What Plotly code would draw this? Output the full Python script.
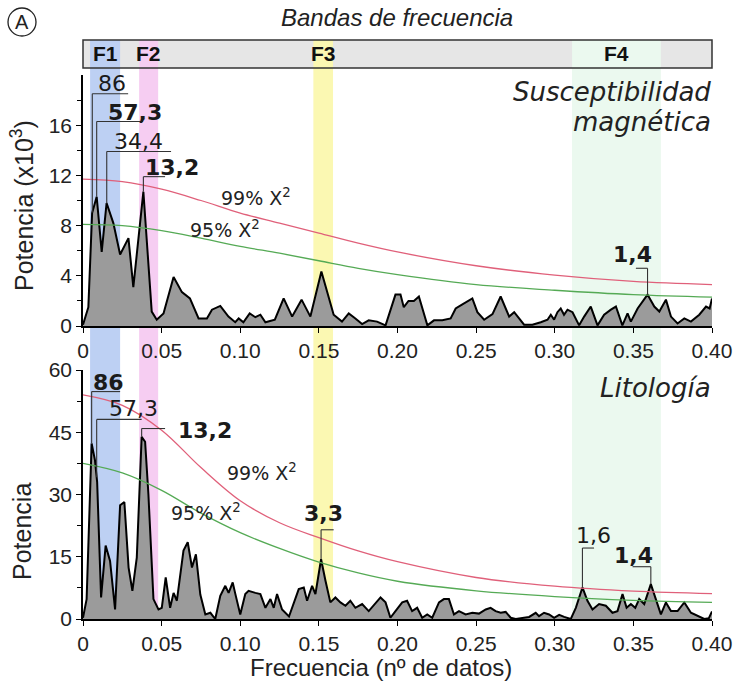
import numpy as np
import plotly.graph_objects as go

# ---------------- data ----------------
SUSC_FREQ = [0.0, 0.0034, 0.0058, 0.0087, 0.0119, 0.015, 0.0193, 0.0236, 0.0289, 0.032,
             0.0384, 0.0437, 0.0469, 0.0512, 0.0576, 0.0629, 0.068, 0.0735, 0.0788, 0.082,
             0.0873, 0.0925, 0.0968, 0.099, 0.102, 0.106, 0.1096, 0.1128, 0.116, 0.122,
             0.1276, 0.133, 0.139, 0.1446, 0.1516, 0.155, 0.1594, 0.1647, 0.169, 0.1732,
             0.1775, 0.1817, 0.187, 0.1924, 0.1987, 0.2019, 0.204, 0.207, 0.2104, 0.2136,
             0.219, 0.2232, 0.2285, 0.2338, 0.237, 0.241, 0.2476, 0.2508, 0.2551, 0.2604,
             0.2656, 0.271, 0.2742, 0.2805, 0.2858, 0.2911, 0.2954, 0.2975, 0.2996, 0.3017,
             0.3038, 0.3059, 0.3081, 0.3113, 0.3155, 0.3187, 0.3229, 0.3272, 0.3314, 0.3357,
             0.3389, 0.343, 0.3463, 0.3484, 0.3527, 0.359, 0.3633, 0.3665, 0.3707, 0.3739,
             0.3781, 0.3824, 0.3866, 0.3919, 0.3962, 0.3985, 0.4]
SUSC_POWER = [0.1, 1.5, 9.0, 10.3, 5.9, 9.8, 8.2, 5.7, 7.0, 3.1,
              10.7, 1.15, 0.5, 1.0, 3.9, 2.7, 2.2, 0.6, 0.6, 1.3,
              1.6, 0.75, 0.3, 0.6, 0.3, 1.0, 0.7, 0.9, 0.3, 0.5,
              2.2, 0.75, 2.1, 0.75, 4.35, 2.9, 0.9, 0.35, 1.0, 0.6,
              0.15, 0.45, 0.35, 0.05, 2.5, 2.5, 1.5, 2.0, 2.0, 2.35,
              0.05, 0.45, 0.45, 0.6, 1.4, 1.7, 2.2, 1.1, 0.5, 0.95,
              2.35, 0.75, 1.1, 0.1, 0.1, 0.3, 0.5, 0.9, 0.5, 1.1,
              1.4, 0.9, 1.3, 1.1, 0.05, 0.75, 1.55, 0.05, 0.9, 1.3,
              1.55, 0.05, 1.0, 0.35, 1.4, 2.5, 1.55, 1.15, 2.1, 0.75,
              0.2, 0.6, 0.35, 0.9, 1.55, 1.4, 2.2]

LITO_FREQ = [0.0, 0.0023, 0.0055, 0.0076, 0.009, 0.0115, 0.0144, 0.0172, 0.0204, 0.0236,
             0.0263, 0.029, 0.0314, 0.0342, 0.0373, 0.0395, 0.0416, 0.0448, 0.048, 0.0501,
             0.0526, 0.0554, 0.0576, 0.0597, 0.0639, 0.0666, 0.0693, 0.0718, 0.0746, 0.0778,
             0.081, 0.0841, 0.0873, 0.0905, 0.0926, 0.0952, 0.0969, 0.1, 0.1032, 0.1053,
             0.1096, 0.1128, 0.116, 0.1192, 0.1213, 0.1234, 0.1266, 0.131, 0.1372, 0.1404,
             0.1425, 0.1457, 0.1478, 0.1514, 0.1542, 0.1573, 0.1605, 0.1637, 0.1669, 0.17,
             0.1732, 0.1775, 0.1817, 0.1849, 0.1892, 0.1924, 0.1955, 0.1987, 0.203, 0.2061,
             0.2093, 0.2125, 0.2157, 0.2189, 0.2221, 0.2264, 0.2295, 0.2327, 0.2359, 0.2391,
             0.2433, 0.2476, 0.2518, 0.2561, 0.2592, 0.2624, 0.2656, 0.2688, 0.272, 0.2752,
             0.2794, 0.2837, 0.2879, 0.29, 0.2932, 0.2964, 0.2996, 0.3028, 0.306, 0.3102,
             0.3134, 0.3176, 0.3208, 0.324, 0.3282, 0.3325, 0.3367, 0.3399, 0.3431, 0.3457,
             0.3484, 0.3512, 0.3537, 0.3569, 0.3611, 0.3643, 0.3675, 0.3707, 0.3739, 0.3781,
             0.3824, 0.3866, 0.3909, 0.3951, 0.398, 0.4]
LITO_POWER = [0.3, 4.8, 42.3, 38.3, 33.0, 5.2, 17.7, 14.0, 2.3, 27.4,
              28.2, 12.4, 6.8, 14.8, 43.9, 42.7, 30.0, 4.8, 2.3, 2.7,
              10.0, 2.7, 6.3, 4.4, 16.5, 18.5, 12.4, 15.6, 5.9, 1.1,
              1.5, 0.0, 5.6, 8.0, 6.3, 8.8, 6.0, 1.1, 6.0, 6.8,
              6.3, 6.0, 2.7, 4.8, 2.7, 6.0, 2.3, 0.6, 7.2, 7.6,
              4.4, 8.0, 6.0, 14.4, 9.2, 4.0, 5.2, 4.0, 3.2, 4.4,
              2.7, 3.6, 1.9, 3.2, 5.2, 4.0, 0.3, 1.9, 4.0, 4.4,
              1.9, 2.7, 0.3, 1.1, 0.3, 4.0, 4.8, 4.8, 1.1, 1.9,
              1.1, 1.5, 1.3, 2.3, 2.7, 1.9, 1.5, 1.7, 0.3, 0.0,
              0.3, 0.5, 1.5, 0.7, 1.5, 1.1, 0.3, 1.0, 0.5, 0.0,
              2.7, 7.6, 4.4, 2.3, 3.6, 3.2, 1.5, 1.9, 6.0, 2.7,
              3.6, 2.7, 4.8, 3.6, 8.4, 4.8, 1.1, 4.0, 1.9, 1.9,
              4.0, 1.5, 0.7, 0.0, 0.2, 1.8]

CONF_FREQ = [0.0, 0.025, 0.05, 0.075, 0.1, 0.125, 0.15, 0.175, 0.2, 0.25, 0.3, 0.35, 0.4]
SUSC_99 = [11.7, 11.5, 10.9, 10.0, 9.0, 8.2, 7.4, 6.6, 5.9, 4.8, 4.05, 3.55, 3.3]
SUSC_95 = [8.1, 8.0, 7.6, 7.0, 6.35, 5.8, 5.2, 4.6, 4.1, 3.3, 2.85, 2.5, 2.3]
LITO_99 = [54.0, 51.5, 45.5, 36.5, 28.5, 23.2, 19.6, 16.4, 13.8, 10.0, 7.9, 6.7, 6.1]
LITO_95 = [37.5, 35.2, 31.0, 25.5, 20.8, 17.0, 13.7, 11.1, 9.1, 6.8, 5.4, 4.5, 4.0]

X_TICKS = [0, 0.05, 0.10, 0.15, 0.20, 0.25, 0.30, 0.35, 0.40]
X_TICK_LABELS = ["0", "0.05", "0.10", "0.15", "0.20", "0.25", "0.30", "0.35", "0.40"]
SUSC_Y_TICKS = [0, 4, 8, 12, 16]
LITO_Y_TICKS = [0, 15, 30, 45, 60]

BAND_NAMES = ["F1", "F2", "F3", "F4"]
BAND_START = [0.0045, 0.0357, 0.1465, 0.311]
BAND_END = [0.0236, 0.0478, 0.159, 0.3675]
BAND_COLORS = ["#bdd0f3", "#f6cdf2", "#fbf8b2", "#ebf9ef"]

# peak labels: (text, bold, peak freq, bracket level, bracket end freq, label freq, label level)
SUSC_PEAKS = [("86", False, 0.0059, 18.5, 0.0287, 0.0185, 19.3),
              ("57,3", True, 0.0087, 16.3, 0.0382, 0.033, 17.0),
              ("34,4", False, 0.0151, 13.9, 0.056, 0.035, 14.7),
              ("13,2", True, 0.0384, 11.9, 0.0522, 0.0567, 12.6),
              ("1,4", True, 0.359, 4.6, 0.3516, 0.3497, 5.7)]
LITO_PEAKS = [("86", True, 0.0055, 54.8, 0.0236, 0.0159, 57.0),
              ("57,3", False, 0.0087, 48.1, 0.0373, 0.0318, 50.8),
              ("13,2", True, 0.0373, 45.9, 0.0522, 0.0775, 45.5),
              ("3,3", True, 0.1514, 21.5, 0.1594, 0.1529, 25.4),
              ("1,6", False, 0.3176, 17.1, 0.325, 0.3248, 20.1),
              ("1,4", True, 0.3611, 12.6, 0.3495, 0.3503, 15.3)]

# ---------------- layout helpers ----------------
W, H = 733, 681
def px(x):
    return x / W
def py(y):
    return (H - y) / H

X_DOM = [px(83), px(712)]
TOP_DOM = [py(326), py(75)]
BOT_DOM = [py(619), py(370)]

ARIAL = "Liberation Sans, Arial, sans-serif"
LABEL_FONT = "DejaVu Sans, Verdana, sans-serif"
TICK_FONT = dict(family=ARIAL, size=21, color="#222")

fig = go.Figure()

def add_panel(freq, power, c99, c95, xa, ya):
    fig.add_trace(go.Scatter(x=freq, y=power, mode="lines", fill="tozeroy",
                             fillcolor="#9b9b9b", line=dict(color="black", width=2),
                             xaxis=xa, yaxis=ya, showlegend=False, hoverinfo="skip"))
    fig.add_trace(go.Scatter(x=CONF_FREQ, y=c99, mode="lines", line_shape="spline",
                             line=dict(color="#e0607a", width=1.3),
                             xaxis=xa, yaxis=ya, showlegend=False, hoverinfo="skip"))
    fig.add_trace(go.Scatter(x=CONF_FREQ, y=c95, mode="lines", line_shape="spline",
                             line=dict(color="#55aa55", width=1.3),
                             xaxis=xa, yaxis=ya, showlegend=False, hoverinfo="skip"))

add_panel(SUSC_FREQ, SUSC_POWER, SUSC_99, SUSC_95, "x", "y")
add_panel(LITO_FREQ, LITO_POWER, LITO_99, LITO_95, "x2", "y2")

shapes = []
annotations = []

# frequency-band strip
strip_y0, strip_y1 = py(68), py(40)
shapes.append(dict(type="rect", xref="paper", yref="paper", x0=X_DOM[0], x1=X_DOM[1],
                   y0=strip_y0, y1=strip_y1, fillcolor="#e6e6e6", line=dict(width=0),
                   layer="below"))
for name, a, b, col in zip(BAND_NAMES, BAND_START, BAND_END, BAND_COLORS):
    shapes.append(dict(type="rect", xref="x", yref="paper", x0=a, x1=b,
                       y0=BOT_DOM[0], y1=strip_y1, fillcolor=col, line=dict(width=0),
                       layer="below"))
    annotations.append(dict(x=(a + b) / 2, y=(strip_y0 + strip_y1) / 2, xref="x", yref="paper",
                            text="<b>%s</b>" % name, showarrow=False,
                            font=dict(family=ARIAL, size=21, color="#111")))
shapes.append(dict(type="rect", xref="paper", yref="paper", x0=X_DOM[0], x1=X_DOM[1],
                   y0=strip_y0, y1=strip_y1, line=dict(color="#333", width=1.5),
                   fillcolor="rgba(0,0,0,0)", layer="above"))

# peak brackets
def add_peaks(peaks, freq, power, xr, yr):
    for text, bold, pf, lvl, endf, lf, ll in peaks:
        top = float(np.interp(pf, freq, power))
        shapes.append(dict(type="line", xref=xr, yref=yr, x0=pf, x1=pf, y0=top, y1=lvl,
                           line=dict(color="#333", width=1.1)))
        shapes.append(dict(type="line", xref=xr, yref=yr, x0=pf, x1=endf, y0=lvl, y1=lvl,
                           line=dict(color="#333", width=1.1)))
        t = "<b>%s</b>" % text if bold else text
        annotations.append(dict(x=lf, y=ll, xref=xr, yref=yr, text=t, showarrow=False,
                                font=dict(family=LABEL_FONT, size=22, color="#1a1a1a")))

add_peaks(SUSC_PEAKS, SUSC_FREQ, SUSC_POWER, "x", "y")
add_peaks(LITO_PEAKS, LITO_FREQ, LITO_POWER, "x2", "y2")

chi_font = dict(family=LABEL_FONT, size=19, color="#222")
title_font = dict(family=LABEL_FONT, size=26, color="#222")
annotations += [
    dict(x=0.11, y=10.3, xref="x", yref="y", text="99% X<sup>2</sup>", showarrow=False, font=chi_font),
    dict(x=0.09, y=7.7, xref="x", yref="y", text="95% X<sup>2</sup>", showarrow=False, font=chi_font),
    dict(x=0.114, y=35.5, xref="x2", yref="y2", text="99% X<sup>2</sup>", showarrow=False, font=chi_font),
    dict(x=0.078, y=25.8, xref="x2", yref="y2", text="95% X<sup>2</sup>", showarrow=False, font=chi_font),
    dict(x=px(713), y=py(92), xref="paper", yref="paper", xanchor="right",
         text="<i>Susceptibilidad</i>", showarrow=False, font=title_font),
    dict(x=px(713), y=py(122), xref="paper", yref="paper", xanchor="right",
         text="<i>magnética</i>", showarrow=False, font=title_font),
    dict(x=px(713), y=py(388), xref="paper", yref="paper", xanchor="right",
         text="<i>Litología</i>", showarrow=False, font=title_font),
    dict(x=px(397), y=py(18), xref="paper", yref="paper", text="<i>Bandas de frecuencia</i>",
         showarrow=False, font=dict(family=ARIAL, size=24, color="#222")),
    dict(x=px(22), y=py(22), xref="paper", yref="paper", text="A", showarrow=False,
         font=dict(family=ARIAL, size=20, color="#222")),
    dict(x=px(22), y=py(206), xref="paper", yref="paper", text="Potencia (x10<sup>3</sup>)",
         textangle=-90, showarrow=False, font=dict(family=ARIAL, size=25, color="#222")),
    dict(x=px(22), y=py(532), xref="paper", yref="paper", text="Potencia",
         textangle=-90, showarrow=False, font=dict(family=ARIAL, size=25, color="#222")),
    dict(x=px(381), y=py(667), xref="paper", yref="paper", text="Frecuencia (nº de datos)",
         showarrow=False, font=dict(family=ARIAL, size=24, color="#222")),
]
for a in annotations:
    a.setdefault("xanchor", "center")
    a.setdefault("yanchor", "middle")

shapes.append(dict(type="circle", xref="paper", yref="paper", x0=px(8), x1=px(36),
                   y0=py(36), y1=py(8), line=dict(color="#222", width=1.3)))

xaxis_common = dict(range=[0, 0.4], tickvals=X_TICKS, ticktext=X_TICK_LABELS, showgrid=False,
                    zeroline=False, showline=True, linecolor="black", linewidth=2,
                    ticks="outside", ticklen=5, tickcolor="black", tickfont=TICK_FONT,
                    domain=X_DOM, automargin=False)
yaxis_common = dict(showgrid=False, zeroline=False, showline=True, linecolor="black",
                    linewidth=1.5, ticks="outside", ticklen=5, tickcolor="black",
                    tickfont=TICK_FONT, automargin=False)

fig.update_layout(
    width=W, height=H, autosize=False,
    margin=dict(l=0, r=0, t=0, b=0, pad=0),
    paper_bgcolor="white", plot_bgcolor="rgba(0,0,0,0)",
    xaxis=dict(anchor="y", **xaxis_common),
    xaxis2=dict(anchor="y2", **xaxis_common),
    yaxis=dict(anchor="x", domain=TOP_DOM, range=[0, 20], tickvals=SUSC_Y_TICKS,
               minor=dict(tickvals=[2, 6, 10, 14, 18], ticks="outside", ticklen=4, tickcolor="black"),
               **yaxis_common),
    yaxis2=dict(anchor="x2", domain=BOT_DOM, range=[0, 60], tickvals=LITO_Y_TICKS,
                minor=dict(tickvals=[7.5, 22.5, 37.5, 52.5], ticks="outside", ticklen=4, tickcolor="black"),
                **yaxis_common),
    shapes=shapes, annotations=annotations,
)

fig.write_html("out.html", config={"displayModeBar": False},
               post_script="document.body.style.margin='0';document.body.style.overflow='hidden';")
